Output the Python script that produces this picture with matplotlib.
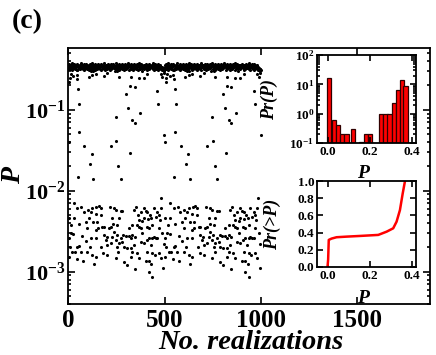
import numpy as np
import matplotlib
matplotlib.use("Agg")
import matplotlib.pyplot as plt
from matplotlib.ticker import LogLocator, NullFormatter

plt.rcParams['font.family'] = ['Liberation Serif', 'DejaVu Serif']
plt.rcParams['font.weight'] = 'bold'
plt.rcParams['mathtext.fontset'] = 'custom'
plt.rcParams['mathtext.rm'] = 'Liberation Serif:bold'
plt.rcParams['mathtext.it'] = 'Liberation Serif:bold:italic'
plt.rcParams['mathtext.bf'] = 'Liberation Serif:bold'
plt.rcParams['mathtext.default'] = 'rm'

# ---- main panel: P of each realization (realizations 500-1000 repeat 0-500 in the figure) ----
PERIOD = 500

# dense band near P ~ 0.35
band_x = [1, 4, 6, 9, 12, 15, 17, 20, 23, 26,
          28, 31, 34, 37, 40, 42, 45, 48, 51, 54,
          57, 59, 62, 65, 68, 71, 73, 76, 79, 82,
          85, 88, 91, 93, 96, 99, 102, 105, 108, 110,
          113, 116, 119, 122, 125, 127, 130, 133, 136, 139,
          142, 145, 147, 150, 153, 156, 159, 162, 164, 167,
          170, 173, 176, 179, 181, 184, 187, 190, 193, 196,
          199, 201, 204, 207, 210, 213, 216, 218, 221, 224,
          227, 230, 233, 236, 238, 241, 244, 247, 250, 253,
          255, 258, 261, 264, 267, 270, 273, 275, 278, 281,
          284, 287, 290, 292, 295, 298, 301, 304, 307, 310,
          312, 315, 318, 321, 324, 327, 329, 332, 335, 338,
          341, 344, 347, 349, 352, 355, 358, 361, 364, 366,
          369, 372, 375, 378, 381, 384, 386, 389, 392, 395,
          398, 401, 403, 406, 409, 412, 415, 418, 421, 423,
          426, 429, 432, 435, 438, 440, 443, 446, 449, 452,
          455, 458, 460, 463, 466, 469, 472, 475, 477, 480,
          483, 486, 489, 492, 495, 497, 499, 3, 44, 118,
          2, 8, 14, 19, 25, 33, 39, 47, 53, 61,
          67, 75, 81, 87, 95, 101, 107, 115, 121, 129,
          135, 141, 149, 155, 161, 169, 175, 183, 189, 195,
          203, 209, 215, 223, 229, 235, 243, 249, 257, 263,
          269, 277, 283, 289, 297, 303, 309, 317, 323, 331,
          337, 343, 351, 357, 363, 371, 377, 383, 391, 397,
          405, 411, 417, 425, 431, 437, 445, 451, 457, 465,
          471, 479, 485, 491, 496]
band_y = [.36, .34, .37, .35, .33, .36, .38, .35, .34, .36,
          .35, .37, .33, .36, .34, .35, .37, .32, .36, .35,
          .34, .36, .35, .38, .33, .35, .36, .34, .37, .35,
          .36, .33, .35, .37, .34, .36, .35, .32, .36, .37,
          .35, .34, .36, .35, .38, .33, .36, .35, .34, .37,
          .36, .35, .33, .36, .37, .34, .35, .36, .32, .35,
          .37, .34, .36, .35, .33, .36, .38, .35, .34, .36,
          .35, .36, .34, .37, .35, .33, .36, .35, .37, .34,
          .36, .35, .37, .33, .36, .34, .35, .38, .35, .36,
          .34, .36, .35, .37, .33, .35, .36, .34, .37, .35,
          .36, .34, .35, .37, .36, .33, .35, .36, .34, .38,
          .35, .36, .34, .35, .37, .33, .36, .35, .34, .36,
          .37, .35, .36, .33, .35, .37, .34, .36, .35, .38,
          .34, .36, .35, .37, .33, .36, .35, .34, .36, .35,
          .36, .35, .37, .34, .35, .36, .33, .35, .37, .36,
          .35, .34, .36, .35, .38, .33, .36, .35, .34, .37,
          .36, .35, .34, .37, .35, .36, .33, .35, .36, .34,
          .32, .31, .33, .31, .32, .30, .31, .32, .31, .30,
          .33, .32, .34, .31, .33, .32, .35, .31, .33, .32,
          .34, .32, .31, .33, .32, .34, .31, .33, .32, .30,
          .33, .31, .32, .34, .33, .31, .32, .33, .31, .34,
          .32, .33, .31, .32, .34, .33, .30, .32, .33, .31,
          .34, .32, .33, .31, .32, .33, .34, .31, .32, .33,
          .31, .33, .32, .34, .31, .32, .33, .30, .32, .34,
          .33, .31, .32, .33, .34, .32, .31, .33, .32, .31,
          .33, .32, .34, .31, .32]

# points just below the band
sub_x = [5, 8, 12, 26, 43, 47, 108, 125, 142, 185, 203, 254, 263, 324, 367, 393, 410, 479, 488, 497]
sub_y = [.22, .25, .276, .261, .268, .241, .251, .268, .276, .261, .287, .303, .251, .251, .244, .244, .276, .276, .256, .287]

# scattered intermediate values
mid_x = [4, 52, 57, 54, 83, 121, 111, 49, 130, 246, 249, 222, 260, 272,
         301, 312, 322, 346, 332, 346, 372, 318, 462, 467, 498]
mid_y = [.040, .179, .119, .0526, .0353, .0281, .0214, .0146, .0140, .0806, .0407, .0353, .0202, .0140,
         .155, .104, .198, .194, .0747, .0692, .092, .0295, .170, .119, .0488]

# low cluster, P ~ 1e-3 .. 8e-3
low_x = [4, 30, 26, 12, 4, 9, 21, 4, 47, 68, 30, 56, 47, 56, 33, 64, 43, 76, 90, 99,
         107, 102, 116, 125, 130, 142, 145, 159, 168, 142, 116, 142, 113, 99, 125, 142, 133, 168, 177, 185,
         185, 194, 203, 182, 216, 228, 237, 246, 234, 220, 254, 263, 272, 280, 228, 251, 246, 263, 220, 254,
         260, 246, 286, 298, 315, 324, 332, 344, 289, 303, 324, 332, 341, 355, 289, 303, 344, 350, 341, 362,
         376, 367, 355, 367, 376, 384, 393, 393, 402, 410, 414, 424, 407, 419, 436, 445, 453, 462, 471, 479,
         483, 476, 431, 393, 407, 419, 436, 445, 453, 427, 410, 436, 448, 402, 419, 431, 419, 436, 493, 479,
         497, 81, 90, 151, 154, 211, 199, 272, 280, 315, 332, 376, 471, 462, 488, 16, 73, 171, 203, 324,
         367, 471, 384, 237]
low_y = [.00456, .00698, .0029, .0030, .00258, .00204, .00174, .00154, .00606, .00635,
         .00456, .00385, .00204, .00208, .00177, .00174, .00144, .00136, .0024, .00344,
         .00456, .00578, .00551, .00606, .00415, .0051, .00635, .0065, .00606, .0033,
         .00258, .00263, .00204, .00177, .00161, .00154, .00123, .00501, .00354, .0036,
         .00284, .00246, .00214, .00169, .00635, .00456, .00606, .00578, .0039, .0036,
         .00378, .00456, .00562, .00562, .0027, .00284, .00246, .00224, .00224, .00204,
         .00174, .00146, .00284, .0028, .0028, .00258, .00284, .0027, .00204, .00198,
         .00198, .00177, .00214, .00169, .00133, .00121, .00108, .00635, .00578, .00501,
         .00551, .00435, .00378, .0036, .00344, .00423, .00456, .00606, .00562, .0054,
         .00448, .00501, .0036, .00344, .00378, .00606, .0048, .00551, .00501, .00606,
         .00805, .00435, .00456, .00224, .00246, .00263, .00258, .0027, .00263, .00214,
         .00177, .00169, .00161, .00136, .00136, .00123, .00098, .00087, .0011, .00146,
         .00218, .00551, .00415, .00415, .00344, .00344, .0027, .00258, .00235, .00344,
         .00378, .00235, .00344, .00258, .0030, .00378, .00277, .00204, .00161, .00154,
         .00146, .00169, .00302, .00312]

# ---- inset 1: histogram Pr(P) ----
hist_centers = [0.007, 0.029, 0.050, 0.070, 0.090, 0.122, 0.158, 0.182, 0.203,
                0.253, 0.275, 0.294, 0.314, 0.333, 0.352, 0.370]
hist_density = [16.8, 0.63, 0.41, 0.21, 0.21, 0.31, 0.105, 0.21, 0.21,
                0.96, 0.96, 0.96, 2.3, 6.3, 13.8, 8.7]
BIN_W = 0.02

# ---- inset 2: cumulative Pr(>P) ----
cdf_p = [0.0, 0.003, 0.006, 0.019, 0.043, 0.09, 0.154, 0.241, 0.281, 0.312, 0.328, 0.344, 0.357, 0.368]
cdf_v = [0.0, 0.084, 0.315, 0.33, 0.346, 0.353, 0.361, 0.373, 0.411, 0.45, 0.527, 0.662, 0.854, 1.0]


def style_ax(ax, size):
    ax.tick_params(which='both', direction='in', top=True, right=True, labelsize=size, width=1.2)
    ax.tick_params(which='major', length=5)
    ax.tick_params(which='minor', length=2.5)
    for s in ax.spines.values():
        s.set_linewidth(1.3)


fig = plt.figure(figsize=(4.36, 3.55), dpi=100)

# main panel
ax = fig.add_axes([0.1567, 0.1437, 0.8284, 0.7211])
xs, ys = [], []
for grp_x, grp_y in [(band_x, band_y), (sub_x, sub_y), (mid_x, mid_y), (low_x, low_y)]:
    gx = np.array(grp_x, dtype=float)
    gy = np.array(grp_y, dtype=float)
    xs += [gx, gx + PERIOD]
    ys += [gy, gy]
ax.scatter(np.concatenate(xs), np.concatenate(ys), s=5, c='black', linewidths=0)
ax.set_yscale('log')
ax.set_xlim(0, 1875)
ax.set_ylim(4e-4, 0.58)
ax.set_xticks([0, 500, 1000, 1500])
ax.set_yticks([1e-3, 1e-2, 1e-1], labels=[r'$10^{-3}$', r'$10^{-2}$', r'$10^{-1}$'])
ax.yaxis.set_minor_locator(LogLocator(base=10, subs=np.arange(2, 10)))
ax.yaxis.set_minor_formatter(NullFormatter())
style_ax(ax, 16)
ax.tick_params(axis='x', labelsize=18)
ax.tick_params(axis='y', which='major', pad=2)
ax.set_xlabel('No. realizations', fontsize=20.5, style='italic', fontweight='bold')
ax.xaxis.set_label_coords(0.506, -0.1)
ax.set_ylabel('P', fontsize=20, style='italic', fontweight='bold')
ax.yaxis.set_label_coords(-0.118, 0.5)

fig.text(0.027, 0.975, '(c)', fontsize=20, fontweight='bold', va='top', ha='left')

# inset 1: histogram
ax1 = fig.add_axes([0.727, 0.597, 0.227, 0.248])
ax1.bar(hist_centers, hist_density, width=BIN_W, bottom=1e-3, color='red',
        edgecolor='#300000', linewidth=0.9, align='center')
ax1.set_yscale('log')
ax1.set_xlim(-0.05, 0.42)
ax1.set_ylim(0.1, 100)
ax1.set_xticks([0.0, 0.2, 0.4], labels=['0.0', '0.2', '0.4'])
ax1.set_yticks([0.1, 1, 10, 100], labels=[r'$10^{-1}$', r'$10^{0}$', r'$10^{1}$', r'$10^{2}$'])
ax1.yaxis.set_minor_locator(LogLocator(base=10, subs=np.arange(2, 10)))
ax1.yaxis.set_minor_formatter(NullFormatter())
style_ax(ax1, 9.5)
ax1.tick_params(which='major', length=4, pad=2)
ax1.set_ylabel('Pr(P)', fontsize=13, style='italic', fontweight='bold')
ax1.yaxis.set_label_coords(-0.39, 0.5)
ax1.set_xlabel('P', fontsize=14, style='italic', fontweight='bold')
ax1.xaxis.set_label_coords(0.46, -0.25)

# inset 2: cumulative
ax2 = fig.add_axes([0.727, 0.248, 0.227, 0.242])
ax2.plot(cdf_p, cdf_v, color='red', linewidth=1.8)
ax2.set_xlim(-0.05, 0.42)
ax2.set_ylim(0, 1.0)
ax2.set_xticks([0.0, 0.2, 0.4], labels=['0.0', '0.2', '0.4'])
ax2.set_yticks([0.0, 0.2, 0.4, 0.6, 0.8, 1.0], labels=['0.0', '0.2', '0.4', '0.6', '0.8', '1.0'])
style_ax(ax2, 9.5)
ax2.tick_params(which='major', length=4, pad=2)
ax2.set_ylabel('Pr(>P)', fontsize=13, style='italic', fontweight='bold')
ax2.yaxis.set_label_coords(-0.36, 0.5)
ax2.set_xlabel('P', fontsize=14, style='italic', fontweight='bold')
ax2.xaxis.set_label_coords(0.46, -0.27)

fig.savefig('out.png', dpi=100)
